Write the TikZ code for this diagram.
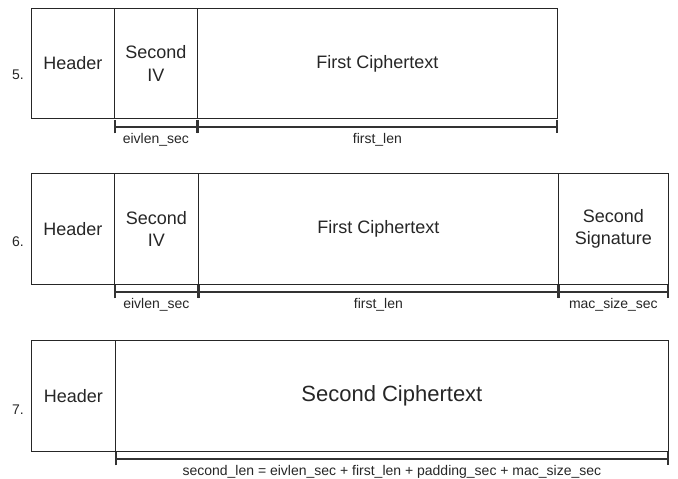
\documentclass[tikz,border=0pt]{standalone}
\usepackage{fontspec}
\setmainfont{Liberation Sans}
\usetikzlibrary{arrows.meta,calc}
\begin{document}
\begin{tikzpicture}[x=1pt,y=-1pt,
  cell/.style={draw=black!85, line width=0.8pt, inner sep=0pt, anchor=north west, align=center,
    font=\fontsize{18}{22.5}\selectfont, text=black!85},
  bigcell/.style={cell, font=\fontsize{22}{26}\selectfont},
  dim/.style={draw=black!80, line width=2pt, {Bar[width=13pt,line width=1.6pt]}-{Bar[width=13pt,line width=1.6pt]}},
  dimlabel/.style={font=\fontsize{14}{16}\selectfont, anchor=north, inner sep=0pt, yshift=-6pt, text=black!85},
  rowlabel/.style={font=\fontsize{14}{16}\selectfont, text=black!85}]
\useasboundingbox (0,0) rectangle (678,479);

% Row 5
\node[rowlabel] (l5) at (18,75) {5.};
\node[cell, minimum width=83pt, minimum height=110pt] (h5) at (31,8) {Header};
\node[cell, minimum width=83pt, minimum height=110pt] (iv5) at (114,8) {Second\\IV};
\node[cell, minimum width=360pt, minimum height=110pt] (c5) at (197,8) {First Ciphertext};
\draw[dim] ($(iv5.south west)+(0,8)$) -- node[dimlabel] {eivlen\_sec} ($(iv5.south east)+(0,8)$);
\draw[dim] ($(c5.south west)+(0,8)$) -- node[dimlabel] {first\_len} ($(c5.south east)+(0,8)$);

% Row 6
\node[rowlabel] (l6) at (18,242) {6.};
\node[cell, minimum width=83pt, minimum height=111pt] (h6) at (31,173) {Header};
\node[cell, minimum width=84pt, minimum height=111pt] (iv6) at (114,173) {Second\\IV};
\node[cell, minimum width=360pt, minimum height=111pt] (c6) at (198,173) {First Ciphertext};
\node[cell, minimum width=110pt, minimum height=111pt] (s6) at (558,173) {Second\\Signature};
\draw[dim] ($(iv6.south west)+(0,7)$) -- node[dimlabel] {eivlen\_sec} ($(iv6.south east)+(0,7)$);
\draw[dim] ($(c6.south west)+(0,7)$) -- node[dimlabel] {first\_len} ($(c6.south east)+(0,7)$);
\draw[dim] ($(s6.south west)+(0,7)$) -- node[dimlabel] {mac\_size\_sec} ($(s6.south east)+(0,7)$);

% Row 7
\node[rowlabel] (l7) at (18,410) {7.};
\node[cell, minimum width=84pt, minimum height=111pt] (h7) at (31,340) {Header};
\node[bigcell, minimum width=553pt, minimum height=111pt] (c7) at (115,340) {Second Ciphertext};
\draw[dim] ($(c7.south west)+(0,7)$) -- node[dimlabel] {second\_len = eivlen\_sec + first\_len + padding\_sec + mac\_size\_sec} ($(c7.south east)+(0,7)$);
\end{tikzpicture}
\end{document}
